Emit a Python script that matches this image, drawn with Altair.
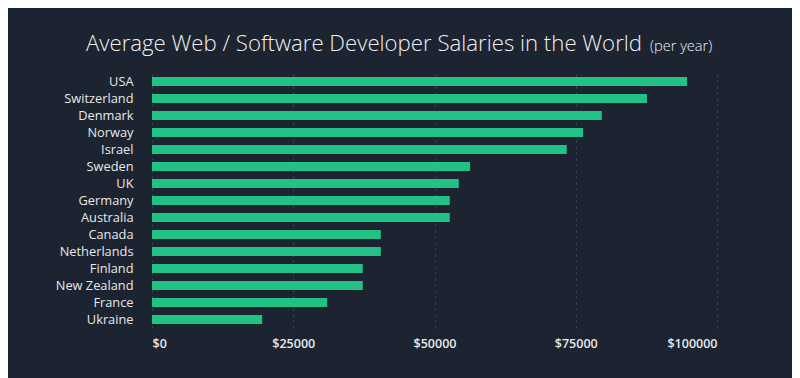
import altair as alt
import pandas as pd

countries = ["USA", "Switzerland", "Denmark", "Norway", "Israel", "Sweden", "UK",
             "Germany", "Australia", "Canada", "Netherlands", "Finland",
             "New Zealand", "France", "Ukraine"]
salaries = [94700, 87600, 79600, 76300, 73400, 56300, 54300, 52700, 52700,
            40500, 40500, 37300, 37300, 31000, 19500]
x_ticks = [0, 25000, 50000, 75000, 100000]

BG = "#1b2430"
FONT = "Open Sans"

df = pd.DataFrame({"country": countries, "salary": salaries})

bars = alt.Chart(df).mark_bar(color="#22c185").encode(
    x=alt.X("salary:Q",
            scale=alt.Scale(domain=[0, 100000], nice=False),
            axis=alt.Axis(values=x_ticks, labelExpr="'$' + datum.value",
                          title=None, grid=True, gridDash=[2, 4],
                          gridColor="#3e4a58", gridWidth=1,
                          domain=False, ticks=False, labelPadding=9,
                          labelColor="#e8e8e8", labelFontSize=12.5,
                          labelFontWeight=600, labelFont=FONT)),
    y=alt.Y("country:N", sort=countries,
            scale=alt.Scale(paddingInner=0.46, paddingOuter=0.23),
            axis=alt.Axis(title=None, domain=False, ticks=False, grid=False,
                          labelPadding=19, labelColor="#e8e8e8",
                          labelFontSize=12.8, labelFont=FONT)),
)

title_main = alt.Chart(pd.DataFrame({"t": ["Average Web / Software Developer Salaries in the World"]})).mark_text(
    align="right", baseline="alphabetic", fontSize=22.2, font=FONT,
    fontWeight=300, color="#f0f0f0"
).encode(text="t:N", x=alt.value(490), y=alt.value(-22.5))

title_sub = alt.Chart(pd.DataFrame({"t": ["(per year)"]})).mark_text(
    align="left", baseline="alphabetic", fontSize=14.6, font=FONT,
    fontWeight=300, color="#f0f0f0"
).encode(text="t:N", x=alt.value(498), y=alt.value(-22.5))

chart = alt.layer(bars, title_main, title_sub).properties(
    width=565, height=255,
    background=BG,
    autosize=alt.AutoSizeParams(type="none"),
    padding={"left": 144, "top": 65, "right": 75, "bottom": 50},
).configure_view(stroke=None)

chart.save("out.html", embed_options={"renderer": "svg", "actions": False})
